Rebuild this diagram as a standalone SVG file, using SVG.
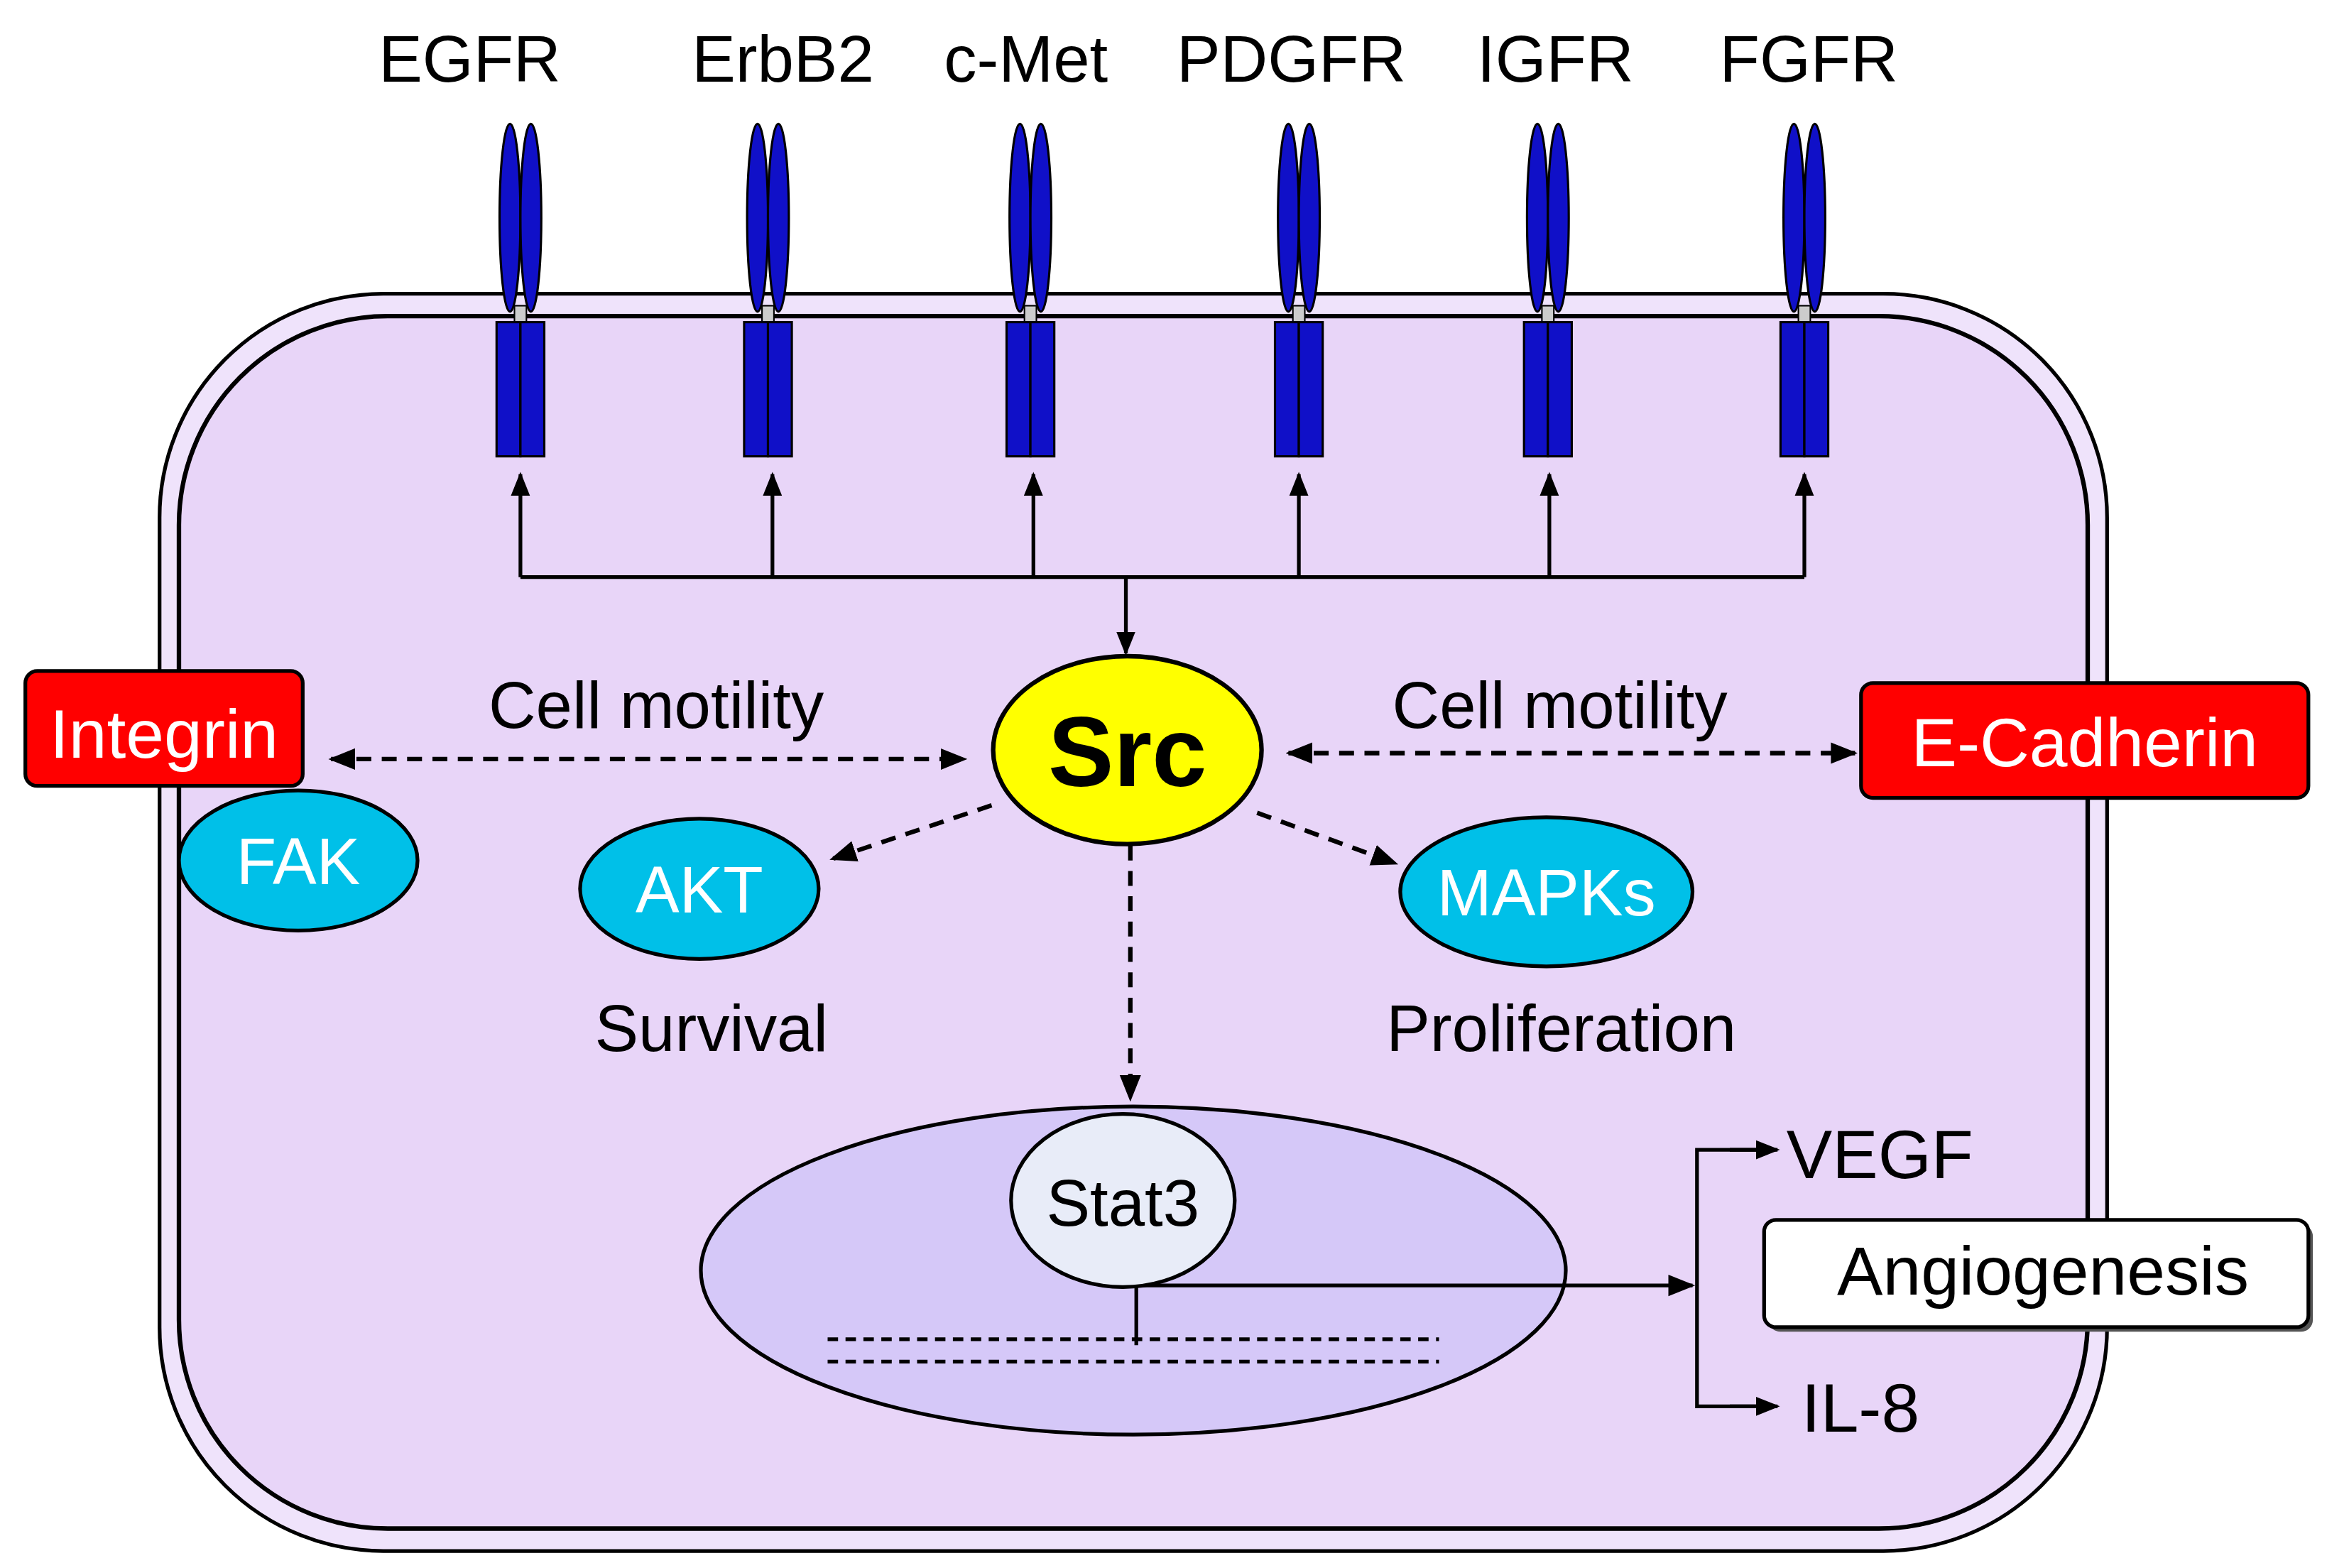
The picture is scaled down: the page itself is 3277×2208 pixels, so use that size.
<svg xmlns="http://www.w3.org/2000/svg" width="3277" height="2208" viewBox="0 0 3277 2208">
<defs>
<marker id="ah" viewBox="0 0 10 10" refX="9" refY="5" markerWidth="16" markerHeight="16" markerUnits="userSpaceOnUse" orient="auto"><path d="M0,1L10,5L0,9z" fill="#000"/></marker>
<marker id="ahL" viewBox="0 0 10 10" refX="9" refY="5" markerWidth="18" markerHeight="18" markerUnits="userSpaceOnUse" orient="auto-start-reverse"><path d="M0,1L10,5L0,9z" fill="#000"/></marker>
<g id="rec">
<ellipse cx="-7" cy="146" rx="7" ry="63" fill="#1010c8" stroke="#000" stroke-width="1.5"/>
<ellipse cx="7" cy="146" rx="7" ry="63" fill="#1010c8" stroke="#000" stroke-width="1.5"/>
<rect x="-4" y="205" width="8" height="12" fill="#ccc" stroke="#000" stroke-width="1"/>
<rect x="-16" y="216" width="16" height="90" fill="#1010c8" stroke="#000" stroke-width="1.5"/>
<rect x="0" y="216" width="16" height="90" fill="#1010c8" stroke="#000" stroke-width="1.5"/>
</g>
</defs>
<style>
text{font-family:"Liberation Sans",Arial,sans-serif;}
.lbl{font-size:44px;text-anchor:middle;fill:#000;}
.w{fill:#fff;text-anchor:middle;}
.cy{fill:#00c0e8;stroke:#000;stroke-width:2.5;}
.d{fill:none;stroke:#000;stroke-width:3;stroke-dasharray:10 7;}
.s{fill:none;stroke:#000;stroke-width:2.5;}
</style>
<rect width="3277" height="2208" fill="#fff"/>
<g transform="scale(2.1)">
<g id="cell">
<rect x="107" y="197" width="1306" height="843" rx="150" fill="#efe3fb" stroke="#000" stroke-width="2.5"/>
<rect x="120" y="212" width="1280" height="813" rx="140" fill="#e8d5f8" stroke="#000" stroke-width="3"/>
</g>
<g id="receptors">
<use href="#rec" transform="translate(349,0)"/>
<use href="#rec" transform="translate(515,0)"/>
<use href="#rec" transform="translate(691,0)"/>
<use href="#rec" transform="translate(871,0)"/>
<use href="#rec" transform="translate(1038,0)"/>
<use href="#rec" transform="translate(1210,0)"/>
<text class="lbl" x="315" y="55">EGFR</text>
<text class="lbl" x="525" y="55">ErbB2</text>
<text class="lbl" x="688" y="55">c-Met</text>
<text class="lbl" x="866" y="55">PDGFR</text>
<text class="lbl" x="1043" y="55">IGFR</text>
<text class="lbl" x="1213" y="55">FGFR</text>
</g>
<g id="nucleus"><ellipse cx="760" cy="852" rx="290" ry="110" fill="#d5c8f8" stroke="#000" stroke-width="2.5"/></g>
<g id="connectors">
<path class="s" d="M349,387H1210" stroke-width="3"/>
<path class="s" d="M349,387V318" marker-end="url(#ah)"/>
<path class="s" d="M518,387V318" marker-end="url(#ah)"/>
<path class="s" d="M693,387V318" marker-end="url(#ah)"/>
<path class="s" d="M871,387V318" marker-end="url(#ah)"/>
<path class="s" d="M1039,387V318" marker-end="url(#ah)"/>
<path class="s" d="M1210,387V318" marker-end="url(#ah)"/>
<path class="s" d="M755,387V438" marker-end="url(#ah)"/>
<path class="d" d="M222,509H647" marker-start="url(#ahL)" marker-end="url(#ahL)"/>
<path class="d" d="M864,505H1244" marker-start="url(#ahL)" marker-end="url(#ahL)"/>
<path class="d" d="M665,540L558,576" marker-end="url(#ahL)"/>
<path class="d" d="M843,545L936,579" marker-end="url(#ahL)"/>
<path class="d" d="M758,567V737" marker-end="url(#ahL)"/>
<path d="M555,898H965M555,913H965" fill="none" stroke="#000" stroke-width="2.5" stroke-dasharray="7 5"/>
<path class="s" d="M762,902V862H1135" marker-end="url(#ahL)" stroke-width="3"/>
<path class="s" d="M1188,771H1138V943H1188"/>
<path class="s" d="M1160,771H1192" marker-end="url(#ah)"/>
<path class="s" d="M1160,943H1192" marker-end="url(#ah)"/>
</g>
<g id="src"><ellipse cx="756" cy="503" rx="90" ry="63" fill="#ffff00" stroke="#000" stroke-width="3"/><text x="756" y="527" font-size="66" font-weight="bold" text-anchor="middle">Src</text></g>
<g id="integrin"><rect x="17" y="450" width="186" height="77" rx="8" fill="#ff0000" stroke="#000" stroke-width="2.5"/><text class="w" x="110" y="508" font-size="46">Integrin</text></g>
<g id="ecad"><rect x="1248" y="458" width="300" height="77" rx="8" fill="#ff0000" stroke="#000" stroke-width="2.5"/><text class="w" x="1398" y="514" font-size="46">E-Cadherin</text></g>
<g id="motility"><text class="lbl" x="440" y="488" font-size="46">Cell motility</text><text class="lbl" x="1046" y="488" font-size="46">Cell motility</text></g>
<g id="fak"><ellipse class="cy" cx="200" cy="577" rx="80" ry="47"/><text class="w" x="200" y="593" font-size="44">FAK</text></g>
<g id="akt"><ellipse class="cy" cx="469" cy="596" rx="80" ry="47"/><text class="w" x="469" y="612" font-size="44">AKT</text></g>
<g id="mapks"><ellipse class="cy" cx="1037" cy="598" rx="98" ry="50"/><text class="w" x="1037" y="614" font-size="44">MAPKs</text></g>
<text class="lbl" x="477" y="705" font-size="46">Survival</text>
<text class="lbl" x="1047" y="705" font-size="46">Proliferation</text>
<g id="stat3"><ellipse cx="753" cy="805" rx="75" ry="58" fill="#e8ecf8" stroke="#000" stroke-width="2.5"/><text x="753" y="822" font-size="44" text-anchor="middle">Stat3</text></g>
<text x="1198" y="790" font-size="46">VEGF</text>
<text x="1208" y="960" font-size="46">IL-8</text>
<g id="angio"><rect x="1186" y="821" width="365" height="72" rx="8" fill="#555"/><rect x="1183" y="818" width="365" height="72" rx="8" fill="#fff" stroke="#000" stroke-width="2.5"/><text x="1370" y="868" font-size="46" text-anchor="middle">Angiogenesis</text></g>
</g>
</svg>
